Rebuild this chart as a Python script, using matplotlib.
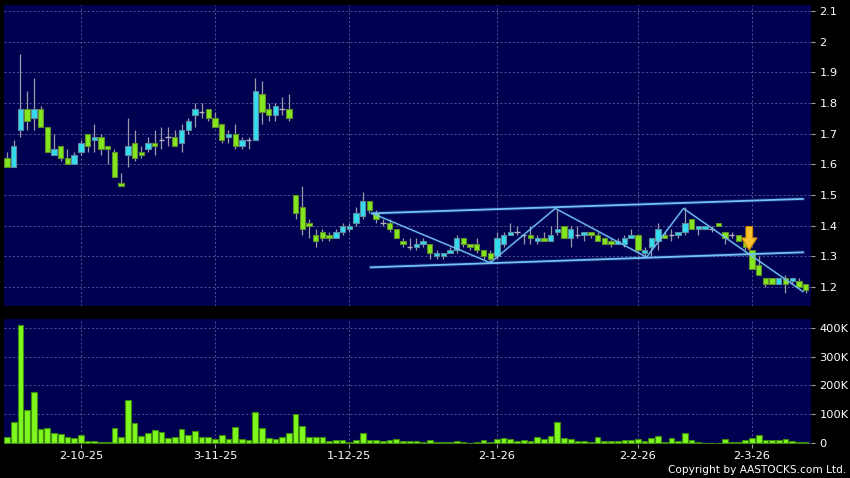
import numpy as np
import matplotlib.pyplot as plt
from matplotlib.patches import FancyArrow

# Datos (precio diario y volumen)
apertura = [1.62, 1.59, 1.71, 1.78, 1.75, 1.78, 1.72, 1.63, 1.66, 1.62,
            1.60, 1.64, 1.70, 1.68, 1.69, 1.66, 1.64, 1.54, 1.63, 1.67,
            1.64, 1.65, 1.67, 1.68, 1.69, 1.69, 1.67, 1.71, 1.76, 1.77,
            1.78, 1.75, 1.73, 1.69, 1.70, 1.66, 1.68, 1.68, 1.83, 1.78,
            1.76, 1.78, 1.78, 1.50, 1.46, 1.41, 1.37, 1.38, 1.37, 1.36,
            1.38, 1.39, 1.41, 1.43, 1.48, 1.44, 1.41, 1.41, 1.39, 1.35,
            1.33, 1.33, 1.34, 1.34, 1.30, 1.30, 1.31, 1.32, 1.36, 1.34,
            1.34, 1.32, 1.31, 1.30, 1.34, 1.37, 1.38, 1.37, 1.37, 1.35,
            1.36, 1.35, 1.38, 1.40, 1.36, 1.37, 1.37, 1.38, 1.37, 1.36,
            1.35, 1.34, 1.34, 1.36, 1.37, 1.31, 1.33, 1.35, 1.37, 1.37,
            1.37, 1.38, 1.42, 1.39, 1.39, 1.39, 1.41, 1.38, 1.37, 1.37,
            1.35, 1.32, 1.27, 1.23, 1.23, 1.21, 1.23, 1.22, 1.22, 1.21]
maximo = [1.64, 1.68, 1.96, 1.84, 1.88, 1.79, 1.72, 1.70, 1.66, 1.65,
          1.64, 1.68, 1.70, 1.73, 1.70, 1.66, 1.65, 1.57, 1.75, 1.71,
          1.66, 1.69, 1.71, 1.72, 1.72, 1.71, 1.73, 1.75, 1.80, 1.80,
          1.78, 1.77, 1.73, 1.71, 1.73, 1.69, 1.69, 1.88, 1.87, 1.80,
          1.80, 1.82, 1.83, 1.50, 1.53, 1.42, 1.39, 1.39, 1.38, 1.39,
          1.41, 1.41, 1.46, 1.51, 1.48, 1.45, 1.42, 1.42, 1.39, 1.36,
          1.36, 1.36, 1.36, 1.34, 1.32, 1.31, 1.33, 1.37, 1.36, 1.34,
          1.36, 1.32, 1.32, 1.38, 1.38, 1.41, 1.40, 1.37, 1.40, 1.37,
          1.38, 1.40, 1.45, 1.40, 1.40, 1.40, 1.38, 1.38, 1.38, 1.36,
          1.36, 1.36, 1.37, 1.39, 1.37, 1.33, 1.36, 1.41, 1.38, 1.39,
          1.38, 1.46, 1.42, 1.40, 1.40, 1.40, 1.41, 1.38, 1.38, 1.37,
          1.35, 1.32, 1.30, 1.23, 1.23, 1.23, 1.24, 1.23, 1.23, 1.21]
minimo = [1.59, 1.59, 1.69, 1.71, 1.71, 1.72, 1.64, 1.63, 1.61, 1.60,
          1.60, 1.63, 1.64, 1.64, 1.63, 1.60, 1.56, 1.53, 1.59, 1.61,
          1.62, 1.64, 1.63, 1.65, 1.66, 1.66, 1.64, 1.70, 1.72, 1.75,
          1.74, 1.72, 1.67, 1.67, 1.65, 1.65, 1.65, 1.68, 1.73, 1.74,
          1.74, 1.76, 1.74, 1.42, 1.37, 1.36, 1.33, 1.35, 1.35, 1.36,
          1.37, 1.38, 1.40, 1.42, 1.44, 1.41, 1.40, 1.38, 1.36, 1.33,
          1.32, 1.32, 1.33, 1.29, 1.29, 1.29, 1.31, 1.31, 1.33, 1.32,
          1.31, 1.29, 1.28, 1.29, 1.33, 1.37, 1.37, 1.34, 1.34, 1.34,
          1.35, 1.35, 1.37, 1.36, 1.33, 1.36, 1.35, 1.36, 1.35, 1.34,
          1.33, 1.34, 1.33, 1.36, 1.31, 1.30, 1.30, 1.32, 1.36, 1.35,
          1.36, 1.37, 1.39, 1.37, 1.39, 1.38, 1.40, 1.34, 1.36, 1.35,
          1.32, 1.26, 1.24, 1.20, 1.21, 1.21, 1.18, 1.21, 1.20, 1.18]
cierre = [1.59, 1.66, 1.78, 1.74, 1.78, 1.72, 1.64, 1.65, 1.62, 1.60,
          1.63, 1.67, 1.66, 1.69, 1.65, 1.65, 1.56, 1.53, 1.66, 1.62,
          1.63, 1.67, 1.66, 1.68, 1.69, 1.66, 1.71, 1.74, 1.78, 1.77,
          1.75, 1.72, 1.68, 1.70, 1.66, 1.68, 1.68, 1.84, 1.77, 1.76,
          1.79, 1.78, 1.75, 1.44, 1.39, 1.40, 1.35, 1.36, 1.36, 1.38,
          1.40, 1.40, 1.44, 1.48, 1.45, 1.42, 1.41, 1.39, 1.36, 1.34,
          1.33, 1.34, 1.35, 1.31, 1.31, 1.31, 1.32, 1.36, 1.34, 1.33,
          1.32, 1.30, 1.29, 1.36, 1.37, 1.38, 1.38, 1.37, 1.36, 1.36,
          1.35, 1.37, 1.39, 1.36, 1.39, 1.37, 1.38, 1.37, 1.35, 1.34,
          1.34, 1.35, 1.36, 1.37, 1.32, 1.32, 1.36, 1.39, 1.36, 1.37,
          1.38, 1.41, 1.39, 1.40, 1.40, 1.39, 1.40, 1.36, 1.37, 1.35,
          1.33, 1.26, 1.24, 1.21, 1.21, 1.23, 1.21, 1.23, 1.20, 1.19]
volumen_k = [23, 74, 408, 115, 178, 50, 52, 36, 31, 21,
             18, 28, 8, 8, 5, 6, 54, 21, 149, 71,
             25, 35, 45, 40, 17, 23, 48, 29, 42, 22,
             20, 16, 27, 16, 56, 15, 12, 108, 53, 18,
             16, 21, 37, 103, 60, 22, 22, 20, 8, 12,
             12, 6, 10, 36, 13, 10, 7, 13, 14, 9,
             9, 8, 5, 13, 5, 3, 3, 7, 5, 2,
             5, 10, 5, 14, 17, 16, 8, 12, 9, 22,
             15, 25, 73, 18, 15, 8, 7, 5, 21, 8,
             8, 8, 12, 12, 14, 7, 18, 24, 5, 17,
             8, 35, 10, 5, 2, 1, 2, 15, 5, 5,
             12, 18, 27, 12, 10, 10, 14, 8, 5, 3]

fechas_idx = [11, 31, 51, 73, 94, 111]
fechas_txt = ["2-10-25", "3-11-25", "1-12-25", "2-1-26", "2-2-26", "2-3-26"]

# Lineas de tendencia (indice, precio)
canal_sup = ([54.4, 118.6], [1.440, 1.487])
canal_inf = ([54.2, 118.6], [1.264, 1.313])
zigzag = ([54.4, 72.0, 81.7, 95.3, 100.8, 118.6],
          [1.440, 1.279, 1.456, 1.297, 1.456, 1.185])

fondo = '#000050'
rejilla = '#5c5c9c'
verde = '#84e61e'
cian = '#35dcef'

fig = plt.figure(figsize=(8.5, 4.78), dpi=100, facecolor='black')
ax = fig.add_axes([4/850, 1-306/478, 807/850, 301/478])
axv = fig.add_axes([4/850, 1-444/478, 807/850, 125/478])

x = np.arange(len(cierre))
o = np.array(apertura)
c = np.array(cierre)

for a in (ax, axv):
    a.set_facecolor(fondo)
    for s in a.spines.values():
        s.set_visible(False)
    a.set_xlim(-0.45, 119.8)
    a.yaxis.tick_right()
    a.tick_params(axis='both', colors='#a0a0a0', labelcolor='white',
                  labelsize=8.2, length=3, width=0.8, pad=3)
    a.grid(True, color=rejilla, linestyle=(0, (2.5, 2.5)), linewidth=0.6)
    a.set_axisbelow(True)
    a.set_xticks(fechas_idx)

# Velas
ax.vlines(x, minimo, maximo, color='#9a9aaa', linewidth=0.9, zorder=2)
sube = c > o
baja = c < o
igual = c == o
ax.bar(x[sube], (c - o)[sube], bottom=o[sube], width=0.8, color=cian,
       edgecolor='#5a8aa0', linewidth=0.8, zorder=3)
ax.bar(x[baja], (o - c)[baja], bottom=c[baja], width=0.8, color=verde,
       edgecolor='#5e8f2a', linewidth=0.8, zorder=3)
ax.hlines(c[igual], x[igual] - 0.4, x[igual] + 0.4, color='#b0b0c0',
          linewidth=1.0, zorder=3)

# Canal y zigzag
for xs, ys, lw in [(canal_sup[0], canal_sup[1], 1.3), (canal_inf[0], canal_inf[1], 1.3),
                   (zigzag[0], zigzag[1], 0.9)]:
    ax.plot(xs, ys, color='#5fb6f0', linewidth=lw * 2.2, alpha=0.18, zorder=4)
    ax.plot(xs, ys, color='#74c2f4', linewidth=lw, zorder=5)

flecha = FancyArrow(110.6, 1.397, 0, -0.077, width=1.0, head_width=2.3,
                    head_length=0.04, length_includes_head=True,
                    facecolor='#f8c22a', edgecolor='#c8860c', linewidth=0.8, zorder=6)
ax.add_patch(flecha)

ax.set_ylim(1.138, 2.119)
ax.set_yticks(np.arange(1.2, 2.15, 0.1))
ax.set_yticklabels(["%g" % round(v, 1) for v in np.arange(1.2, 2.15, 0.1)])
ax.tick_params(axis='x', length=0, labelbottom=False)

# Volumen
axv.bar(x, np.array(volumen_k) * 1000, width=0.85, color='#7ef81e',
        edgecolor='#3d8a10', linewidth=0.8, zorder=3)
axv.set_ylim(-2500, 430000)
axv.set_yticks([0, 100000, 200000, 300000, 400000])
axv.set_yticklabels(["0", "100K", "200K", "300K", "400K"])
axv.set_xticklabels(fechas_txt)
axv.tick_params(axis='x', pad=2)

fig.text(846/850, 1-470/478, "Copyright by AASTOCKS.com Ltd.", color='white',
         fontsize=7.6, ha='right', va='center')

fig.savefig("out.png", dpi=100, facecolor='black')
